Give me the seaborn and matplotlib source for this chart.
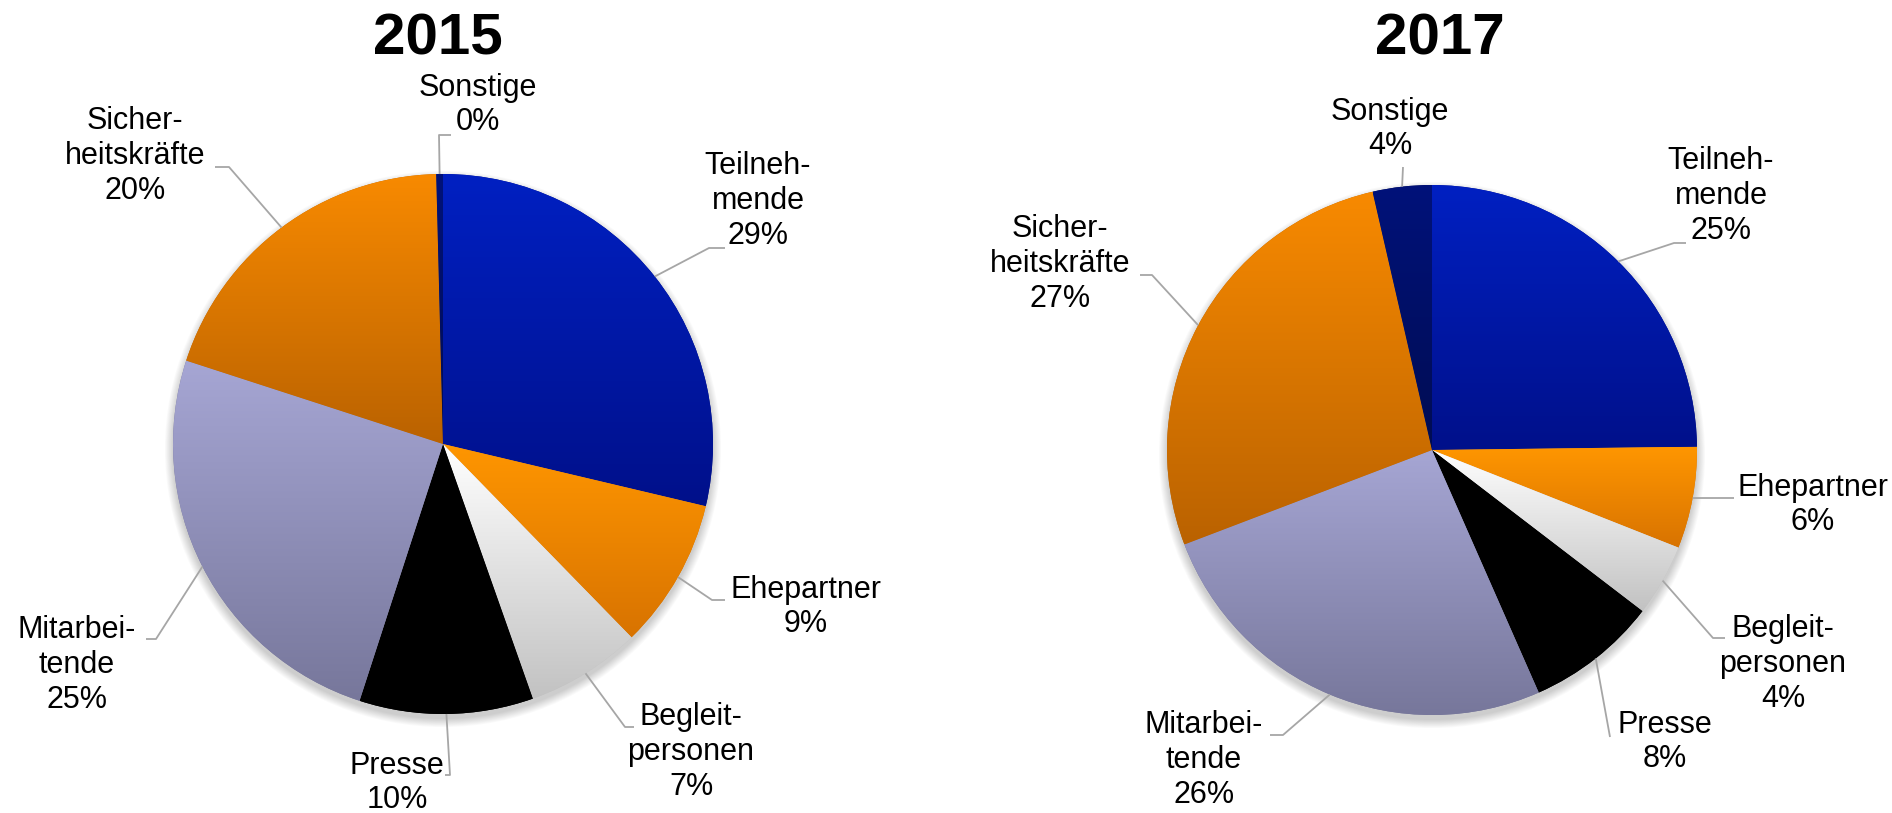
import numpy as np
import matplotlib.pyplot as plt
import seaborn as sns
from matplotlib.colors import LinearSegmentedColormap
from matplotlib.patches import Circle

# data
categories = ["Teilnehmende", "Ehepartner", "Begleitpersonen", "Presse",
              "Mitarbeitende", "Sicherheitskräfte", "Sonstige"]
label_text = ["Teilneh-\nmende", "Ehepartner", "Begleit-\npersonen", "Presse",
              "Mitarbei-\ntende", "Sicher-\nheitskräfte", "Sonstige"]
share_2015 = [28.7, 9.0, 6.9, 10.4, 25.0, 19.6, 0.4]
share_2017 = [24.8, 6.2, 4.4, 8.0, 25.8, 27.2, 3.6]
years = ["2015", "2017"]

# gradient colours per category (top, bottom)
grad_colors = [("#0020c2", "#00108a"),
               ("#ff9600", "#d87300"),
               ("#ffffff", "#c2c2c2"),
               ("#000000", "#000000"),
               ("#a6a6d4", "#77779b"),
               ("#f88a00", "#ba6200"),
               ("#00127a", "#000c52")]

sns.set_theme(style="white")
plt.rcParams['font.family'] = ['Liberation Sans', 'DejaVu Sans']

W, H = 1892, 813
fig = plt.figure(figsize=(W / 100, H / 100), dpi=100)
ax = fig.add_axes([0, 0, 1, 1])

# layout in pixels (y measured from top)
pies = [dict(center=(443, 444), r=270, title_x=438,
             text=[(758, 201), (806, 607), (691, 752), (397, 783), (77, 665), (135, 156), (478, 105)],
             elbow=[[(709, 248), (725, 248)], [(712, 600), (725, 600)], [(625, 727), (634, 727)],
                    [(450, 775), (445, 775)], [(156, 639), (146, 639)], [(229, 167), (215, 167)],
                    [(439, 135), (451, 135)]]),
        dict(center=(1432, 450), r=265, title_x=1440,
             text=[(1721, 196), (1813, 505), (1783, 664), (1665, 742), (1204, 760), (1060, 264), (1390, 129)],
             elbow=[[(1674, 243), (1686, 243)], [(1725, 498), (1734, 498)], [(1713, 638), (1725, 638)],
                    [(1610, 737), (1610, 737)], [(1283, 735), (1270, 735)], [(1152, 275), (1140, 275)],
                    [(1403, 167), (1403, 167)]])]

for year, shares, lay in zip(years, [share_2015, share_2017], pies):
    cx, cy = lay['center'][0], H - lay['center'][1]
    r = lay['r']

    # soft shadow
    for i in range(10):
        ax.add_patch(Circle((cx, cy - 5), r + i * 0.9, color='black', alpha=0.018, zorder=0, lw=0))

    wedges, _ = ax.pie(shares, center=(cx, cy), radius=r, startangle=90, counterclock=False,
                       colors=[c[1] for c in grad_colors], frame=True,
                       wedgeprops=dict(linewidth=0))
    for w, (top, bottom) in zip(wedges, grad_colors):
        w.set_zorder(1)
        ext = w.get_path().get_extents()
        cmap = LinearSegmentedColormap.from_list('g', [bottom, top])
        grad = np.linspace(0, 1, 256).reshape(-1, 1)
        im = ax.imshow(grad, cmap=cmap, extent=[ext.x0, ext.x1, ext.y0, ext.y1],
                       origin='lower', aspect='auto', zorder=2, interpolation='bilinear')
        im.set_clip_path(w)

    for i, w in enumerate(wedges):
        mid = np.deg2rad((w.theta1 + w.theta2) / 2)
        sx, sy = cx + r * np.cos(mid), cy + r * np.sin(mid)
        pts = [(sx, sy)] + [(x, H - y) for x, y in lay['elbow'][i]]
        ax.plot([p[0] for p in pts], [p[1] for p in pts], color='#a6a6a6', lw=1.3, zorder=3,
                solid_capstyle='butt')
        tx, ty = lay['text'][i]
        ax.text(tx, H - ty, f"{label_text[i]}\n{round(shares[i])}%", ha='center', va='center',
                fontsize=22, color='black', linespacing=1.2, zorder=4)

    ax.text(lay['title_x'], H - 40, year, ha='center', va='center', fontsize=42,
            fontweight='bold', color='black')

ax.set_xlim(0, W)
ax.set_ylim(0, H)
ax.set_aspect('auto')
ax.axis('off')

fig.savefig('out.png', dpi=100, facecolor='white')
